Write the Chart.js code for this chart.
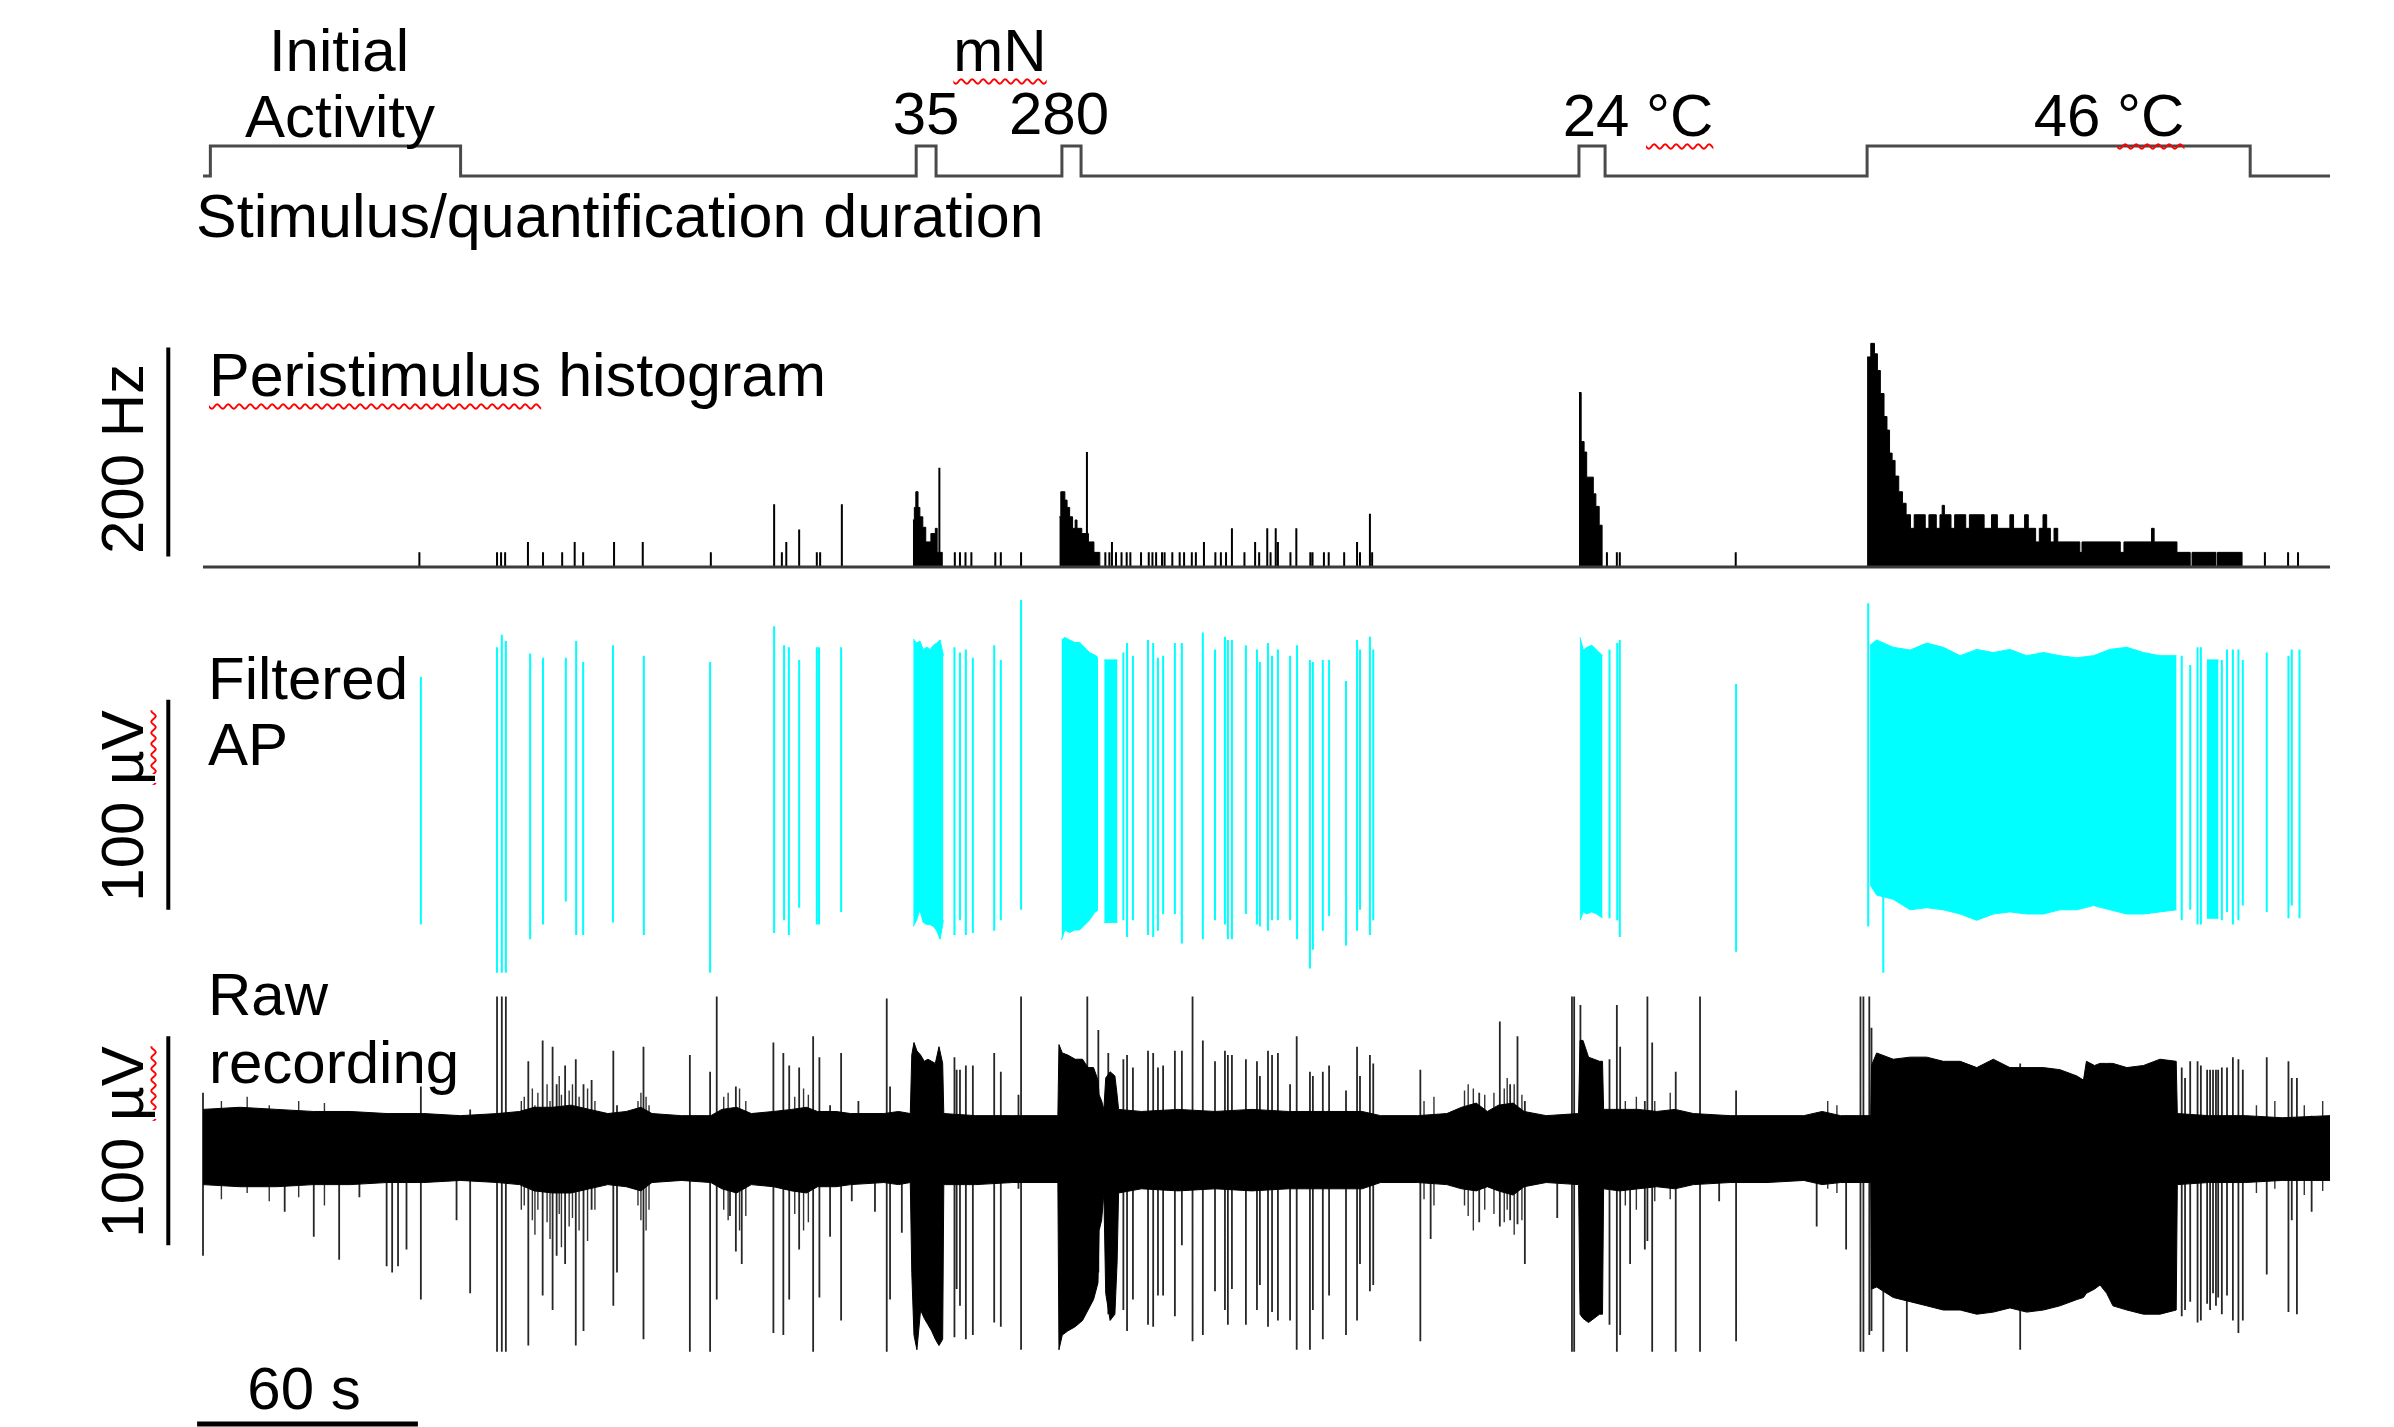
<!DOCTYPE html>
<html><head><meta charset="utf-8">
<script src="https://cdn.jsdelivr.net/npm/chart.js@4.4.1/dist/chart.umd.min.js"></script>
<style>
html,body{margin:0;padding:0;background:#fff;}
#wrap{position:relative;width:2394px;height:1427px;overflow:hidden;background:#fff;}
#c{position:absolute;left:0;top:0;width:2394px;height:1427px;}
.lbl{position:absolute;font-family:"Liberation Sans",Arial,sans-serif;font-size:60px;line-height:60px;color:#000;white-space:nowrap;}
.big{font-size:61px;line-height:60px;}
.ctr{text-align:center;width:400px;}
.rot{transform-origin:0 0;transform:rotate(-90deg);text-align:center;width:300px;}
.sq{text-decoration:underline wavy #ff0000;text-decoration-thickness:2px;text-underline-offset:7px;}
</style></head>
<body>
<div id="wrap">
<canvas id="c" width="2394" height="1427"></canvas>
<div class="lbl ctr" style="left:139px;top:21px;">Initial</div>
<div class="lbl ctr" style="left:140px;top:87px;">Activity</div>
<div class="lbl ctr" style="left:800px;top:21px;"><span class="sq">mN</span></div>
<div class="lbl ctr" style="left:726px;top:84px;">35</div>
<div class="lbl ctr" style="left:859px;top:84px;">280</div>
<div class="lbl ctr" style="left:1438px;top:86px;">24 <span class="sq">°C</span></div>
<div class="lbl ctr" style="left:1909px;top:86px;">46 <span class="sq">°C</span></div>
<div class="lbl big" style="left:196px;top:186px;">Stimulus/quantification duration</div>
<div class="lbl big" style="left:209px;top:345px;"><span class="sq">Peristimulus</span> histogram</div>
<div class="lbl" style="left:208px;top:649px;">Filtered</div>
<div class="lbl" style="left:208px;top:715px;">AP</div>
<div class="lbl" style="left:208px;top:965px;">Raw</div>
<div class="lbl" style="left:209px;top:1033px;">recording</div>
<div class="lbl ctr" style="left:104px;top:1359px;">60 s</div>
<div class="lbl rot" style="left:93px;top:609px;">200 Hz</div>
<div class="lbl rot" style="left:93px;top:956px;">100 <span class="sq">µV</span></div>
<div class="lbl rot" style="left:93px;top:1292px;">100 <span class="sq">µV</span></div>
</div>
<script>
// ---------------- DATA (time in s) ----------------
const recordEnd = 578;
// Stimulus / quantification windows (0 = off, 1 = on), stepped
const stimT     = [0, 2, 70, 193.8, 199.2, 233.4, 238.6, 373.9, 381.0, 452.2, 556.3, 578];
const stimLevel = [0, 1, 0,  1,     0,     1,     0,     1,     0,     1,     0,     0];

// Peristimulus histogram: isolated bins [t, Hz]
const histBars = [
 [58.8,14],[79.9,14],[81,14],[82.1,14],[88.3,24],[92.4,14],[97.6,14],[101,24],[103.3,14],[111.7,24],[119.5,24],[138,14],
 [155.2,60],[157.3,14],[158.5,24],[162,36],[166.8,14],[167.7,14],[173.6,60],[200.1,95],
 [204.3,14],[205.7,14],[207.2,14],[208.8,14],[215.3,14],[216.8,14],[222.3,14],[240.2,110],
 [245.2,14],[246.3,14],[247,24],[248.1,14],[249.6,14],[251,14],[252,14],[254.9,14],[257,14],[258,14],[259,14],[260.6,14],
 [261.3,14],[263.4,14],[265.4,14],[266.6,14],[268.7,14],[269.8,14],[272,24],[275.1,14],[276.6,14],[278,14],[279.6,37],
 [283,14],[285.9,24],[287,14],[289.2,37],[290.1,14],[291.5,37],[292.1,24],[295.5,14],[297.1,37],[300.9,14],[301.5,14],
 [304.6,14],[305.9,14],[310.1,14],[313.6,24],[314.4,14],[317.1,51],[317.7,14],
 [381.5,14],[384.2,14],[385,14],[416.5,14],[560.3,14],[566.6,14],[569.3,14]
];
// Peristimulus histogram: dense bursts [bin start t, Hz]
const histBurst35 = [[192.9,45],[193.3,57],[193.7,72],[194.3,57],[194.8,48],[195.6,38],[196.4,24],[197.8,32],[199,37],[199.5,14],[200.9,0]];
const histBurst280 = [[232.7,48],[233.1,72],[234.2,64],[234.8,57],[235.5,48],[236.3,37],[237,45],[237.5,37],[238.8,32],[240.6,24],[242.1,14],[243.7,0]];
const histBurst24 = [[373.9,167],[374.5,120],[375.3,110],[376,86],[377.8,70],[378.5,58],[379.4,40],[380.2,0]];
const histBurst46 = [[452.2,201],[453.2,214],[454.2,204],[455,188],[455.8,166],[456.8,144],[457.6,131],[458.3,109],[459,102],
 [459.8,87],[460.8,72],[461.8,61],[462.8,50],[464,37],[465,50],[468,37],[469,50],[471,37],[472,50],[472.6,59],[473.2,50],
 [475,37],[476,50],[479,37],[480,50],[484,37],[486,50],[487.6,37],[491,50],[492,37],[495,50],[496,37],[498,24],[499,37],
 [500,50],[501,37],[502,24],[503,37],[504,24],[510,14],[510.6,24],[521,14],[522,24],[529.5,37],[530.2,24],[536.4,14],
 [540,0],[540.5,14],[547,0],[547.4,14],[554.1,0]];

// Filtered AP: isolated spikes [t, peak µV, trough µV]
const apSpikes = [
 [59.2,53,-65],[79.9,67,-88],[81.2,73,-88],[82.3,70,-88],[88.9,64,-72],[92.4,62,-65],[98.6,62,-54],[101.4,70,-70],[103.3,60,-70],
 [111.4,68,-64],[119.8,63,-70],[137.8,60,-88],[155.2,77,-69],[157.9,68,-63],[159.2,67,-70],[162,61,-57],[166.8,67,-65],[167.4,67,-65],[173.4,67,-59],
 [204.2,67,-70],[205.7,64.5,-63],[207.3,66,-70],[209.2,62,-69],[215,68,-68],[216.8,61,-63],[222.3,89.5,-58],
 [250.1,64.5,-63],[251.1,69,-71],[252.7,63,-63],[256.8,70.5,-70],[258.2,69,-71],[259.5,62,-68],[260.9,63,-60],[264.1,69,-60],[266,69,-74],
 [271.7,74,-72],[275,66,-63],[277.7,72,-65],[278.5,70.5,-72],[279.6,70.5,-72],[283.4,68,-60],[286.4,66,-65],[287.2,60,-66],[289.4,69,-68],
 [290.5,63,-63],[292.1,66,-63],[295.4,63,-63],[297.3,68,-72],[300.8,61,-86],[301.6,60,-77],[304.3,61,-68],[306,61,-61],[310.6,51,-75],
 [313.6,70.5,-68],[314.4,66,-58],[317.1,72,-70],[318,66,-63],
 [382.2,66,-62],[384.3,69,-63],[385,70.5,-71],[416.6,49.5,-78],[452.5,88,-66],[456.6,65,-88],
 [537.7,63,-63],[540,58.6,-58],[542,67,-65],[542.9,67,-65],[548.6,61,-63],[550,66,-59],[551.6,66,-65],[553.1,66,-63],[554.3,61,-56],
 [560.8,64.5,-59],[566.7,63,-62],[567.6,66,-56],[569.7,66,-62]
];
// Filtered AP: dense firing envelopes
const apBand35T   = [193.0,193.9,194.8,195.7,196.7,197.6,198.5,199.4,200.3,201.2];
const apBand35Top = [71,69,70,66,67,66,68,69,70.5,63];
const apBand35Bot = [-66,-63,-58,-64,-65,-65,-66,-68,-72,-63];
const apBand280T   = [233.3,234.2,235.5,236.9,238.2,239.6,240.9,242.3,243.2];
const apBand280Top = [70.5,71.7,70.5,69.3,69.3,66.9,64.5,63.3,62.1];
const apBand280Bot = [-72.4,-67.6,-68.8,-67.6,-67.6,-65.2,-62.9,-59.3,-58.1];
const apBand280bT   = [244.9,248.5];
const apBand280bTop = [61,61];
const apBand280bBot = [-64,-64];
const apBand24T   = [374.2,375.1,376,377.4,378.7,380.1,380.3];
const apBand24Top = [71.7,65.7,66.9,68,65.7,63.3,63.3];
const apBand24Bot = [-63,-59,-60,-59,-60,-61.7,-61.7];
const apBand46T   = [453.0,454.8,459.3,463.9,468.4,472.9,477.5,482,486.5,491,495.6,500.1,504.6,509.2,513.7,518.2,522.8,527.3,531.8,536.3];
const apBand46Top = [68,70.5,67,65.7,69,67,63,66,64.5,66,63,64.5,63,62,63,66,67,64.5,63,63];
const apBand46Bot = [-46,-51,-53,-58,-57,-58,-60,-63,-60,-59,-60,-60,-58,-58,-56,-58,-60,-60,-59,-58];
const apBand46bT   = [544.5,547.7];
const apBand46bTop = [61,61];
const apBand46bBot = [-62,-62];

// Raw recording: noise envelope [µV]
const rawT = [0,10,20,30,40,50,60,70,80,86,90,95,100,105,110,115,119,122,130,138,141,145,149,155,160,164,167,172,176,185,189,192.2,
 192.6,193.2,194,195,196,197,198,199,200,201,201.3,210,220,232.3,232.6,233.5,235,237,239,240.5,242,243.2,243.5,244.2,244.8,245.3,246.5,247.8,248.4,248.8,
 255,265,275,285,295,305,315,320,330,338,342,346,349,352,356,359,365,373.8,374.2,375,376.5,378,379.5,380.3,380.6,385,390,395,400,405,
 415,425,435,440,445,453.2,453.4,454.8,459.3,463.9,468.4,472.9,477.5,482,486.5,491,495.6,500.1,504.6,509.2,511,511.8,514,515.5,517.3,
 519,522.8,527.3,531.8,536.2,536.5,545,555,565,578];
const rawTop = [18,19,18,17,17,16,16,15,16,17,19,19,20,18,16,17,19,16,15,15,18,19,16,17,18,19,17,17,16,16,17,16,
 44,50,46,44,41,42,41,40,48,40,16,15,15,15,49,45,44,42,42,38,38,32,25,22,18,33,36,34,25,18,
 17,18,17,18,17,17,17,15,15,16,19,21,17,20,21,17,15,16,51,51,43,42,41,41,18,18,18,17,18,16,
 15,15,15,17,15,15,39,45,42,43,43,41,41,38,42,38,38,38,37,34,32,41,39,40,40,
 40,38,39,42,41,16,15,15,14,15];
const rawBot = [-18,-19,-19,-18,-18,-17,-17,-16,-17,-18,-21,-22,-22,-20,-18,-19,-21,-17,-16,-17,-20,-22,-18,-19,-21,-22,-19,-19,-18,-17,-18,-17,
 -60,-90,-97,-78,-82,-85,-88,-92,-95,-92,-18,-18,-17,-17,-97,-90,-88,-86,-83,-78,-73,-65,-40,-35,-22,-70,-83,-80,-55,-22,
 -20,-21,-20,-21,-20,-20,-20,-17,-17,-18,-20,-21,-19,-21,-23,-19,-17,-18,-80,-82,-84,-82,-80,-80,-20,-21,-20,-19,-20,-18,
 -17,-17,-16,-18,-17,-17,-68,-67,-72,-74,-76,-78,-78,-80,-79,-77,-79,-78,-76,-73,-72,-70,-68,-66,-70,
 -76,-78,-80,-80,-78,-18,-17,-17,-16,-16];
// Raw recording: spikes [t, peak µV, trough µV]
const rawSpikes = [
 [0,26,-52],[22.2,15,-31],[30.1,15,-43],[37,15,-54],[42.5,15,-24],[49.9,15,-57],[51.4,15,-60],[53,15,-57],[55.3,15,-49],[59.2,29,-73],
 [68.9,15,-35],[72.6,18,-70],[79.9,72,-98],[81.2,72,-98],[82.3,72,-98],[88.4,41,-95],[92.3,51,-71],[95,48,-78],[96.1,30,-52],[98.4,39,-56],
 [101.3,42,-95],[103.4,30,-88],[105.6,32,-30],[111.5,46,-76],[112.5,20,-60],[119.7,48,-92],[132.3,44,-98],[137.8,36,-98],[139.6,72,-73],
 [143.2,15,-33],[144.8,29,-50],[146.4,15,-56],[155,50,-89],[157.7,45,-90],[159.3,39,-73],[162,38,-49],[165.8,53,-98],[167.5,43,-72],
 [170.4,20,-43],[173.4,45,-83],[176.3,15,-26],[178.1,22,-16],[182.6,15,-31],[185.8,71,-98],[186.7,29,-73],[189.9,15,-41],
 [204.2,43,-91],[204.8,37,-68],[205.7,37,-76],[207.3,39,-92],[209.2,39,-90],[215,45,-84],[216.8,36,-86],[221.6,25,-20],[222.3,72,-97],
 [240.3,72,-60],[243.3,56,-60],
 [246,45,-80],[250.1,42,-78],[251.1,44,-88],[252.7,38,-73],[256.8,46,-85],[258.2,45,-86],[259.5,38,-71],[260.9,39,-71],[264.1,46,-81],
 [266,46,-47],[268.9,72,-93],[271.7,51,-90],[275,41,-69],[277.7,46,-78],[278.5,44,-85],[279.6,44,-68],[283.4,42,-85],[286.4,41,-78],
 [287.2,34,-66],[289.4,46,-86],[290.5,44,-79],[292.1,45,-83],[295.4,30,-83],[297.2,53,-97],[300.8,36,-97],[301.6,34,-78],[304.3,36,-92],
 [306,39,-71],[310.6,27,-90],[313.6,48,-83],[314.4,34,-56],[317.1,44,-69],[318,40,-66],
 [330.8,37,-93],[333.6,15,-44],[346.8,26,-36],[352.4,60,-38],[355.2,30,-35],[357.2,53,-37],[359.2,22,-56],[368,15,-34],[372,72,-98],[372.6,72,-98],
 [374.3,68,-70],[382.2,42,-85],[384.2,68,-98],[385.1,48,-90],[387.8,15,-56],[391.8,22,-49],[392.5,72,-45],[393.8,50,-98],[400.2,36,-98],
 [406.8,72,-98],[412,15,-26],[416.6,27,-93],[438.5,15,-38],[446.5,15,-49],[450.4,72,-98],[451.2,72,-98],[452.8,72,-90],[453.4,57,-88],
 [456.6,40,-98],[463,40,-98],[493.8,40,-97],
 [537.7,38,-81],[538.6,33,-78],[540,41,-74],[542,41,-84],[542.9,39,-83],[544.6,37,-75],[545.4,37,-78],[546.2,37,-70],[547,37,-76],[547.6,37,-72],
 [548.6,38,-80],[550,38,-71],[551.6,43,-83],[553.1,42,-89],[554.3,37,-83],[560.8,43,-61],[566.7,41,-79],[567.6,33,-35],[569,33,-80],[573,15,-31]
];
// Raw recording: small multi-unit deflections [t, peak µV, trough µV]
const rawSmall = [
 [5,22,-25],[12,24,-22],[18,20,-26],[26,22,-24],[33,21,-28],
 [86.5,22,-30],[87.3,24,-28],[89.5,28,-35],[90.2,20,-42],[91,26,-30],[93.5,30,-36],[94.3,22,-44],[96.8,34,-32],[97.4,25,-48],
 [99.5,27,-38],[100.4,30,-34],[102.2,24,-40],[104.5,28,-45],[106.5,22,-30],
 [118.2,22,-28],[119,26,-35],[120.4,24,-40],[121.2,20,-30],
 [141.5,24,-30],[142.7,26,-35],[145.8,28,-40],[147.5,22,-33],
 [160.8,24,-32],[163.2,28,-40],[164.5,25,-36],
 [331.8,22,-25],[334.5,24,-28],
 [342.8,27,-28],[343.8,30,-33],[345.2,28,-40],[348.3,25,-30],
 [350.8,26,-32],[353.6,28,-36],[354.4,33,-30],[356.3,30,-42],[358.4,25,-35],
 [386.5,22,-28],[389.5,24,-30],[394.5,22,-26],[398.7,26,-25],
 [441.5,22,-20],[444,20,-22],
 [558,20,-22],[563,22,-20],[571,20,-23],[576,22,-21]
];
// Scale bars
const scaleHz = 200, scaleAP = 100, scaleRaw = 100, scaleSec = 60;

// ---------------- LAYOUT (pixel geometry of the page) ----------------
const W = 2394, H = 1427;
const PLOT_LEFT = 203, PX_PER_S = 3.68;
function axisRange(zeroPx, pxPerUnit) { return {min: -(H - zeroPx) / pxPerUnit, max: zeroPx / pxPerUnit}; }
const rStim = axisRange(176, 30);
const rHz   = axisRange(567, 1.045);
const rAP   = axisRange(788, 2.1);
const rRaw  = axisRange(1147, 2.09);
const barX = -9.43;

// ---------------- DATASETS ----------------
const CYAN = '#00ffff';
function spikeSet(list, axis, color, width) {
  const data = [];
  list.forEach(([t, hi, lo]) => { data.push({x: t, y: lo}, {x: t, y: hi}, {x: t, y: null}); });
  return {type: 'line', data, yAxisID: axis, borderColor: color, borderWidth: width, pointRadius: 0, fill: false, spanGaps: false, tension: 0};
}
function bandSets(T, top, bot, axis, color) {
  return [
    {type: 'line', data: T.map((t, i) => ({x: t, y: bot[i]})), yAxisID: axis, borderColor: color, borderWidth: 1, pointRadius: 0, fill: false},
    {type: 'line', data: T.map((t, i) => ({x: t, y: top[i]})), yAxisID: axis, borderColor: color, borderWidth: 1, pointRadius: 0, fill: '-1', backgroundColor: color}
  ];
}
function burstSet(b) {
  return {type: 'line', data: b.map(([t, h]) => ({x: t, y: h})), yAxisID: 'yHz', stepped: true, fill: 'origin',
          backgroundColor: '#000', borderColor: '#000', borderWidth: 1, pointRadius: 0};
}
function lineSet(pts, axis, color, width, extra) {
  return Object.assign({type: 'line', data: pts, yAxisID: axis, borderColor: color, borderWidth: width, pointRadius: 0, fill: false}, extra || {});
}

const datasets = [
  // stimulus trace
  lineSet(stimT.map((t, i) => ({x: t, y: stimLevel[i]})), 'yStim', '#4a4a4a', 3, {stepped: true}),
  // histogram
  lineSet([{x: 0, y: 0}, {x: recordEnd, y: 0}], 'yHz', '#3c3c3c', 3),
  spikeSet(histBars.map(([t, h]) => [t, h, 0]), 'yHz', '#000', 2),
  burstSet(histBurst35), burstSet(histBurst280), burstSet(histBurst24), burstSet(histBurst46),
  // filtered AP
  spikeSet(apSpikes, 'yAP', CYAN, 2),
  ...bandSets(apBand35T, apBand35Top, apBand35Bot, 'yAP', CYAN),
  ...bandSets(apBand280T, apBand280Top, apBand280Bot, 'yAP', CYAN),
  ...bandSets(apBand280bT, apBand280bTop, apBand280bBot, 'yAP', CYAN),
  ...bandSets(apBand24T, apBand24Top, apBand24Bot, 'yAP', CYAN),
  ...bandSets(apBand46T, apBand46Top, apBand46Bot, 'yAP', CYAN),
  ...bandSets(apBand46bT, apBand46bTop, apBand46bBot, 'yAP', CYAN),
  // raw recording
  spikeSet(rawSpikes, 'yRaw', 'rgba(0,0,0,0.85)', 1.8),
  spikeSet(rawSmall, 'yRaw', 'rgba(0,0,0,0.8)', 1.4),
  ...bandSets(rawT, rawTop, rawBot, 'yRaw', '#000'),
  // scale bars
  lineSet([{x: barX, y: 10}, {x: barX, y: 10 + scaleHz}], 'yHz', '#000', 4),
  lineSet([{x: barX, y: -58}, {x: barX, y: -58 + scaleAP}], 'yAP', '#000', 4),
  lineSet([{x: barX, y: -47}, {x: barX, y: -47 + scaleRaw}], 'yRaw', '#000', 4),
  lineSet([{x: -1.6, y: -132.5}, {x: -1.6 + scaleSec, y: -132.5}], 'yRaw', '#000', 5)
];

const hidden = (r) => ({type: 'linear', position: 'left', min: r.min, max: r.max, display: false, stacked: false});
new Chart(document.getElementById('c'), {
  type: 'line',
  data: {datasets},
  options: {
    responsive: false, animation: false, events: [],
    layout: {padding: 0},
    plugins: {legend: {display: false}, tooltip: {enabled: false}, title: {display: false}},
    elements: {point: {radius: 0}, line: {tension: 0, capBezierPoints: false}},
    scales: {
      x: {type: 'linear', min: -PLOT_LEFT / PX_PER_S, max: (W - PLOT_LEFT) / PX_PER_S, display: false, offset: false},
      yStim: hidden(rStim), yHz: hidden(rHz), yAP: hidden(rAP), yRaw: hidden(rRaw)
    }
  }
});
</script>
</body></html>
